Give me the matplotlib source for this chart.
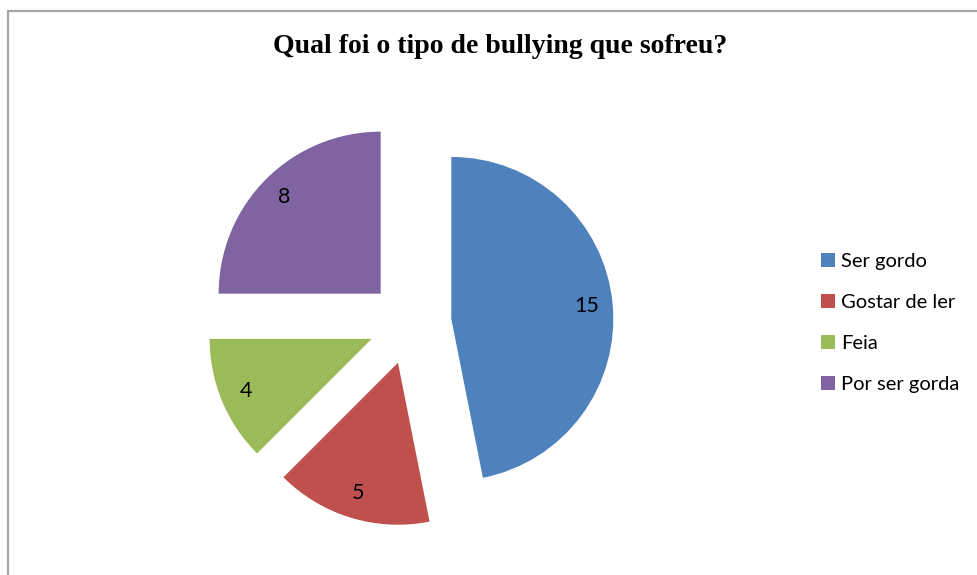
import numpy as np
import matplotlib.pyplot as plt
from matplotlib.patches import Rectangle, Patch

# Dados da pergunta
tipos = ['Ser gordo', 'Gostar de ler', 'Feia', 'Por ser gorda']
respostas = [15, 5, 4, 8]
cores = ['#4F81BD', '#C0504D', '#9BBB59', '#8064A2']
titulo = 'Qual foi o tipo de bullying que sofreu?'

W, H = 977, 575
fig = plt.figure(figsize=(W / 100, H / 100), dpi=100)

# moldura cinza do grafico
fig.patches.append(Rectangle((8 / W, -0.1), 1.2, 1 - 11 / H + 0.1, transform=fig.transFigure,
                             fill=False, edgecolor='#A6A6A6', linewidth=1.6))

# eixo em unidades de raio (raio = 162 px), centro em (410, 323) px
r = 162.0
cx, cy = 410.0, 323.0
ax = fig.add_axes([0, 0, 1, 1])
total = sum(respostas)
fatias, textos, nums = ax.pie(respostas, colors=cores, startangle=90, counterclock=False,
                              explode=[41.5 / r] * len(respostas), radius=1,
                              autopct=lambda p: f'{round(p * total / 100):d}',
                              pctdistance=0.84,
                              textprops={'fontsize': 15.5, 'family': 'Lato', 'color': 'black'},
                              wedgeprops={'linewidth': 0})
ax.set_xlim(-cx / r, (W - cx) / r)
ax.set_ylim(-(H - cy) / r, cy / r)
ax.set_aspect('auto')
ax.axis('off')

fig.text(500 / W, 1 - 53 / H, titulo, ha='center', va='baseline',
         family='Liberation Serif', fontweight='bold', fontsize=20)

alcas = [Patch(facecolor=c, edgecolor='none') for c in cores]
fig.legend(alcas, tipos, loc='center left', bbox_to_anchor=(803 / W, 1 - 323 / H),
           frameon=False, prop={'family': 'Lato', 'size': 14.5},
           handlelength=0.7, handleheight=0.7, handletextpad=0.3, labelspacing=1.2)

fig.savefig('out.png', dpi=100)
